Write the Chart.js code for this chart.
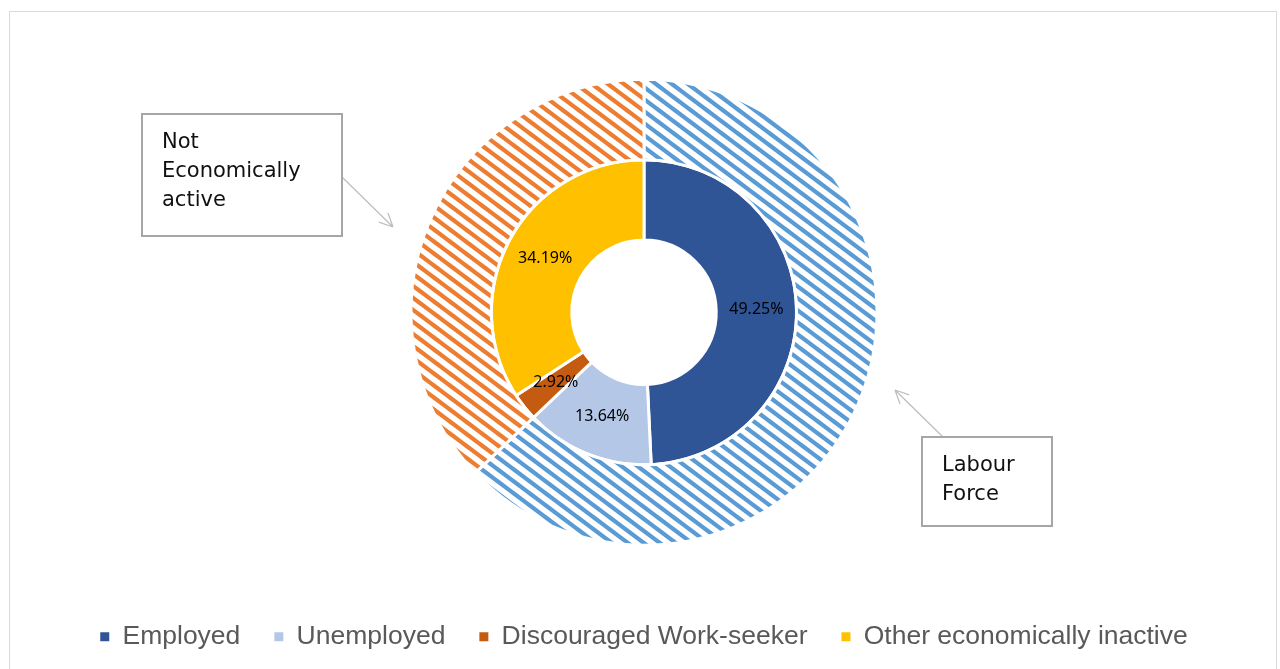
<!DOCTYPE html>
<html lang="en">
  <head>
    <meta charset="UTF-8" />
    <title>Labour market status</title>
    <style>
      body { margin: 0; background: #fff; }
      .frame {
        position: absolute;
        left: 9px;
        top: 11px;
        width: 1268px;
        height: 680px;
        border: 1px solid #d9d9d9;
        box-sizing: border-box;
      }
      #statusChart { position: absolute; left: 0; top: 0; }
    </style>
  </head>
  <body>
    <div class="frame"></div>
    <canvas id="statusChart" width="1280" height="669"></canvas>

    <script src="https://cdn.jsdelivr.net/npm/chart.js"></script>

    <script>
      const statusLabels = ["Employed", "Unemployed", "Discouraged Work-seeker", "Other economically inactive"];
      const statusShares = [49.25, 13.64, 2.92, 34.19];
      const statusColors = ["#2f5597", "#b4c7e7", "#c55a11", "#ffc000"];

      const groupLabels = ["Labour Force", "Not Economically active"];
      const groupShares = [62.89, 37.11];
      const groupColors = ["#5b9bd5", "#ed7d31"];

      // downward diagonal stripes for the outer ring
      function stripes(color) {
        const w = 16, h = 12;
        const tile = document.createElement("canvas");
        tile.width = w;
        tile.height = h;
        const c = tile.getContext("2d");
        c.strokeStyle = color;
        c.lineWidth = 4.2;
        c.beginPath();
        [-h, 0, h].forEach((dy) => {
          c.moveTo(-w, -h + dy);
          c.lineTo(2 * w, 2 * h + dy);
        });
        c.stroke();
        return c.createPattern(tile, "repeat");
      }

      // value labels on the inner ring
      const valueLabels = {
        id: "valueLabels",
        afterDatasetsDraw(chart) {
          const ctx = chart.ctx;
          const meta = chart.getDatasetMeta(1);
          ctx.save();
          ctx.font = "16px 'Noto Sans'";
          ctx.fillStyle = "#000";
          ctx.textAlign = "center";
          ctx.textBaseline = "middle";
          meta.data.forEach((arc, i) => {
            const p = arc.tooltipPosition();
            ctx.fillText(statusShares[i].toFixed(2) + "%", p.x, p.y);
          });
          ctx.restore();
        },
      };

      // boxed notes with arrows pointing at the outer ring
      const notes = [
        { text: ["Not", "Economically", "active"], x: 142, y: 114, w: 200, h: 122, from: [342, 177], to: [393, 227] },
        { text: ["Labour", "Force"], x: 922, y: 437, w: 130, h: 89, from: [943, 437], to: [895, 390] },
      ];

      const calloutNotes = {
        id: "calloutNotes",
        afterDraw(chart) {
          const ctx = chart.ctx;
          ctx.save();
          notes.forEach((n) => {
            ctx.strokeStyle = "#bfbfbf";
            ctx.lineWidth = 1.3;
            ctx.beginPath();
            ctx.moveTo(n.from[0], n.from[1]);
            ctx.lineTo(n.to[0], n.to[1]);
            const a = Math.atan2(n.to[1] - n.from[1], n.to[0] - n.from[0]);
            [-0.45, 0.45].forEach((d) => {
              ctx.moveTo(n.to[0], n.to[1]);
              ctx.lineTo(n.to[0] - 15 * Math.cos(a + d), n.to[1] - 15 * Math.sin(a + d));
            });
            ctx.stroke();

            ctx.fillStyle = "#fff";
            ctx.fillRect(n.x, n.y, n.w, n.h);
            ctx.strokeStyle = "#a6a6a6";
            ctx.lineWidth = 2;
            ctx.strokeRect(n.x, n.y, n.w, n.h);

            ctx.fillStyle = "#111";
            ctx.font = "21px 'DejaVu Sans'";
            ctx.textBaseline = "alphabetic";
            n.text.forEach((line, i) => {
              ctx.fillText(line, n.x + 20, n.y + 34 + i * 29);
            });
          });
          ctx.restore();
        },
      };

      const ctx1 = document.getElementById("statusChart");

      const chart1 = new Chart(ctx1, {
        type: "doughnut",
        data: {
          labels: statusLabels,
          datasets: [
            {
              label: "Group",
              data: groupShares,
              backgroundColor: groupColors.map((c) => stripes(c)),
              borderColor: "#fff",
              borderWidth: 3,
            },
            {
              label: "Status",
              data: statusShares,
              backgroundColor: statusColors,
              borderColor: "#fff",
              borderWidth: 3,
            },
          ],
        },
        options: {
          responsive: false,
          animation: false,
          radius: 233,
          cutout: "31%",
          layout: {
            padding: { top: 35, bottom: 9, left: 8 },
          },
          plugins: {
            tooltip: { enabled: false },
            legend: {
              position: "bottom",
              labels: {
                boxWidth: 9,
                boxHeight: 9,
                padding: 34,
                color: "#595959",
                font: { family: "'Liberation Sans', Arial", size: 26.5 },
                generateLabels: () =>
                  statusLabels.map((label, i) => ({
                    text: label,
                    fillStyle: statusColors[i],
                    strokeStyle: statusColors[i],
                    fontColor: "#595959",
                    lineWidth: 0,
                    index: i,
                  })),
              },
            },
          },
        },
        plugins: [valueLabels, calloutNotes],
      });
    </script>
  </body>
</html>
